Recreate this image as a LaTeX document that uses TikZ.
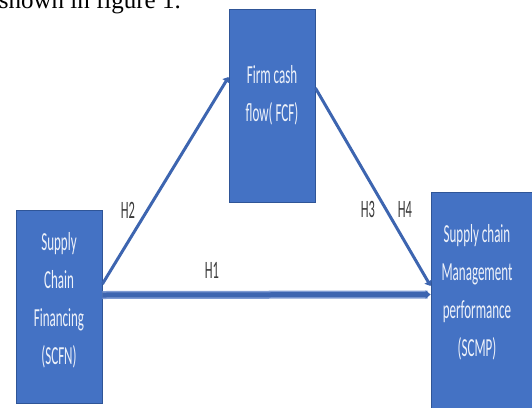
\documentclass[tikz,border=0pt]{standalone}
\usepackage{fontspec}
\setmainfont{Liberation Serif}
\newfontfamily\boxfont[FakeStretch=0.5]{Carlito}
\usetikzlibrary{arrows.meta}
\definecolor{boxblue}{HTML}{4472C4}
\definecolor{boxedge}{HTML}{2F5597}
\definecolor{linkblue}{HTML}{3D65B0}
\definecolor{linkedge}{HTML}{7F9BD3}
\definecolor{boxtext}{HTML}{EEF2FA}
\definecolor{labgray}{HTML}{3A3A3A}
\tikzset{
  box/.style={draw=boxedge, line width=0.8pt, fill=boxblue, rectangle, inner sep=0pt},
  boxtxt/.style={text=boxtext, align=center, inner sep=0pt,
     font=\boxfont\fontsize{26}{38}\selectfont},
  hlab/.style={text=labgray, inner sep=0pt, font=\boxfont\fontsize{25}{28}\selectfont},
  link/.style={draw=linkblue, line width=3pt, -{Triangle[length=5pt,width=8pt]}}
}
\begin{document}
\begin{tikzpicture}[x=1pt,y=-1pt]
\useasboundingbox (0,0) rectangle (532,407);
\clip (0,0) rectangle (532,407);
% header text (cut off at top)
\node[anchor=base east, inner sep=0pt, text=black, font=\fontsize{25}{30}\selectfont] (hdr) at (181,8) {shown in figure 1.};
% boxes
\node[box, minimum width=86pt, minimum height=193pt] (fcf) at (272,105.5) {};
\node[box, minimum width=86pt, minimum height=193pt] (scfn) at (59,306.5) {};
\node[box, minimum width=110pt, minimum height=228pt] (scmp) at (486,306) {};
% box texts
\node[boxtxt] (fcft) at (272,95) {Firm cash\\flow( FCF)};
\node[boxtxt] (scfnt) at (59,300) {Supply\\Chain\\Financing\\(SCFN)};
\node[boxtxt] (scmpt) at (477,292) {Supply chain\\Management\\performance\\(SCMP)};
% connectors
\draw[link] ([yshift=22.5pt]scfn.east) -- ([yshift=28.5pt]fcf.west);
\draw[link] ([yshift=17.5pt]fcf.east) -- ([yshift=20pt]scmp.west);
\path[draw=linkedge, line width=8pt] ([yshift=11.5pt]scfn.east) -- ([xshift=-3pt,yshift=11.5pt]scmp.west);
\draw[link, line width=5pt] ([yshift=11.5pt]scfn.east) -- ([yshift=11.5pt]scmp.west);
% labels
\node[hlab] (h2) at (128,210) {H2};
\node[hlab] (h1) at (212,270) {H1};
\node[hlab] (h3) at (368,209) {H3};
\node[hlab] (h4) at (405,209) {H4};
\end{tikzpicture}
\end{document}
